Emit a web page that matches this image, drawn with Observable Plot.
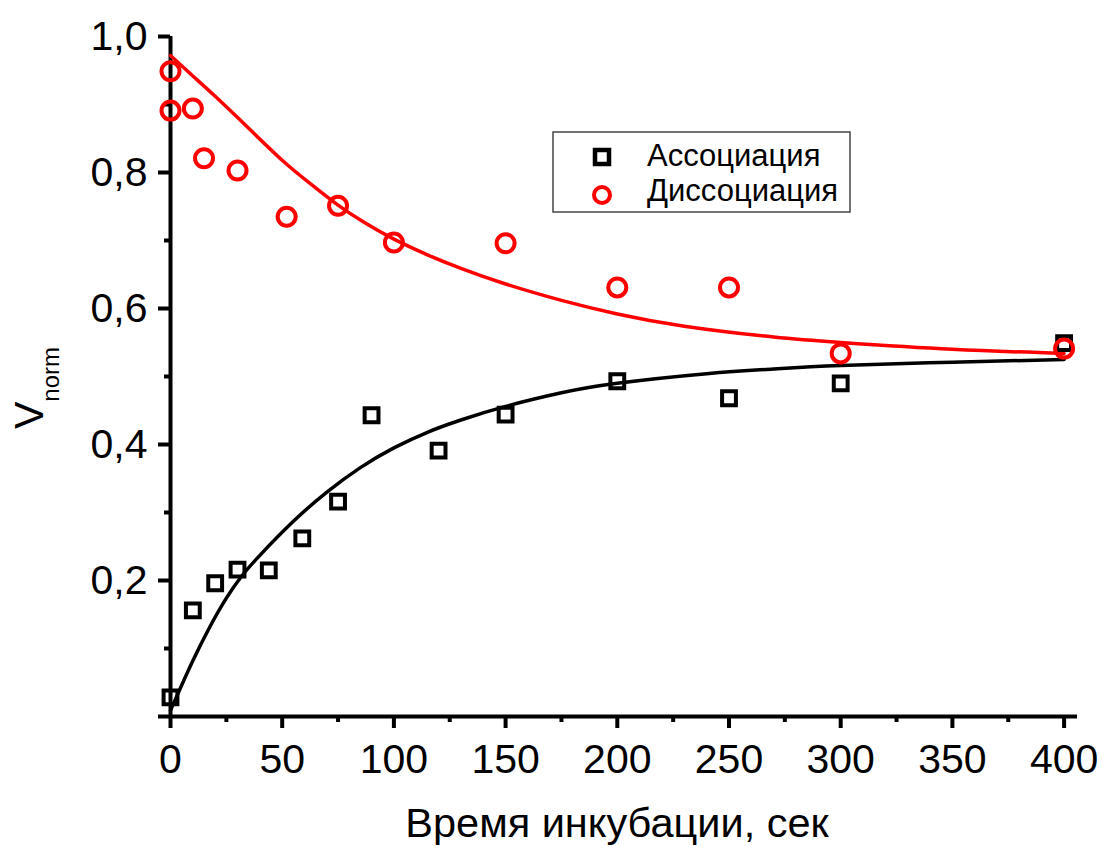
<!DOCTYPE html>
<html>
<head>
<meta charset="utf-8">
<script src="https://cdn.jsdelivr.net/npm/d3@7"></script>
<script src="https://cdn.jsdelivr.net/npm/@observablehq/plot@0.6"></script>
<style>
  html, body { margin: 0; padding: 0; background: #fff; }
  #chart svg { display: block; }
</style>
</head>
<body>
<div id="chart"></div>
<script>
// Data
const assocTime = [0, 10, 20, 30, 44, 59, 75, 90, 120, 150, 200, 250, 300, 400];
const assocValue = [0.028, 0.156, 0.196, 0.216, 0.215, 0.262, 0.316, 0.443, 0.391, 0.444, 0.493, 0.468, 0.490, 0.549];

const dissocTime = [0, 0, 10, 15, 30, 52, 75, 100, 150, 200, 250, 300, 400];
const dissocValue = [0.949, 0.891, 0.894, 0.821, 0.803, 0.735, 0.751, 0.697, 0.696, 0.631, 0.631, 0.534, 0.541];

// Fitted curves
const assocFitTime = [0, 5, 10, 17, 25, 32, 40, 55, 70, 85, 100, 115, 130, 150, 175, 200, 240, 270, 300, 350, 400];
const assocFitValue = [0.009, 0.046, 0.082, 0.128, 0.174, 0.207, 0.237, 0.287, 0.330, 0.366, 0.395, 0.418, 0.436, 0.456, 0.476, 0.490, 0.504, 0.511, 0.516, 0.521, 0.525];

const dissocFitTime = [0, 10, 20, 35, 50, 62, 75, 87, 100, 115, 130, 150, 175, 200, 230, 270, 300, 350, 400];
const dissocFitValue = [0.972, 0.942, 0.912, 0.865, 0.818, 0.785, 0.752, 0.726, 0.702, 0.679, 0.659, 0.636, 0.612, 0.592, 0.574, 0.558, 0.550, 0.540, 0.534];

const seriesNames = ["Ассоциация", "Диссоциация"];
const xLabel = "Время инкубации, сек";
const yLabelMain = "V";
const yLabelSub = "norm";

const xMajorTicks = [0, 50, 100, 150, 200, 250, 300, 350, 400];
const xMinorTicks = [25, 75, 125, 175, 225, 275, 325, 375];
const yMajorTicks = [0, 0.2, 0.4, 0.6, 0.8, 1.0];
const yMinorTicks = [0.1, 0.3, 0.5, 0.7, 0.9];

const zip = (xs, ys) => xs.map((x, i) => ({x, y: ys[i]}));
const assoc = zip(assocTime, assocValue);
const dissoc = zip(dissocTime, dissocValue);
const assocFit = zip(assocFitTime, assocFitValue);
const dissocFit = zip(dissocFitTime, dissocFitValue);

const RED = "#ff0000";
const BLACK = "#000000";
const FONT = "'Liberation Sans', Arial, Helvetica, sans-serif";

const chart = Plot.plot({
  width: 1102,
  height: 846,
  marginLeft: 170,
  marginRight: 25,
  marginTop: 36,
  marginBottom: 130,
  style: {fontFamily: FONT, background: "#fff", color: "#000"},
  x: {domain: [0, 406]},
  y: {domain: [0, 1]},
  marks: [
    // minor ticks
    Plot.axisX({ticks: xMinorTicks, tickSize: 6, strokeWidth: 4, tickFormat: null, label: null, text: null}),
    Plot.axisY({ticks: yMinorTicks, tickSize: 6, strokeWidth: 4, tickFormat: null, label: null, text: null}),
    // major ticks
    Plot.axisX({ticks: xMajorTicks, tickSize: 12, tickPadding: 15, strokeWidth: 4, fontSize: 41,
                tickFormat: d => String(d), label: null}),
    Plot.axisY({ticks: yMajorTicks, tickSize: 12, tickPadding: 11, strokeWidth: 4, fontSize: 41,
                tickFormat: d => d === 0 ? "" : d.toFixed(1).replace(".", ","), label: null}),
    // axis lines
    Plot.ruleY([0], {x1: 0, x2: 406, stroke: BLACK, strokeWidth: 4}),
    Plot.ruleX([0], {y1: 0, y2: 1, stroke: BLACK, strokeWidth: 4}),
    // fitted curves
    Plot.line(assocFit, {x: "x", y: "y", stroke: BLACK, strokeWidth: 3.5, curve: "natural"}),
    Plot.line(dissocFit, {x: "x", y: "y", stroke: RED, strokeWidth: 3.5, curve: "natural"}),
    // data points
    Plot.dot(assoc, {x: "x", y: "y", symbol: "square", r: 7.8, stroke: BLACK, strokeWidth: 4, fill: "none"}),
    Plot.dot(dissoc, {x: "x", y: "y", symbol: "circle", r: 9, stroke: RED, strokeWidth: 4, fill: "none"})
  ]
});

document.getElementById("chart").appendChild(chart);

const svg = d3.select(chart);

// x axis label
svg.append("text")
  .attr("x", 617).attr("y", 837)
  .attr("text-anchor", "middle")
  .attr("font-family", FONT).attr("font-size", 41.5).attr("fill", "#000")
  .text(xLabel);

// y axis label with subscript
const yl = svg.append("text")
  .attr("transform", "translate(43,388) rotate(-90)")
  .attr("text-anchor", "middle")
  .attr("font-family", FONT).attr("fill", "#000");
yl.append("tspan").attr("font-size", 41).text(yLabelMain);
yl.append("tspan").attr("font-size", 24).attr("dy", 16).text(yLabelSub);

// legend
const lg = svg.append("g");
lg.append("rect")
  .attr("x", 553).attr("y", 132).attr("width", 297).attr("height", 80)
  .attr("fill", "#fff").attr("stroke", "#444").attr("stroke-width", 1.5);
lg.append("rect")
  .attr("x", 595).attr("y", 150).attr("width", 14).attr("height", 14)
  .attr("fill", "none").attr("stroke", BLACK).attr("stroke-width", 4.5);
lg.append("circle")
  .attr("cx", 602).attr("cy", 195).attr("r", 8)
  .attr("fill", "none").attr("stroke", RED).attr("stroke-width", 4);
lg.selectAll("text.lt").data(seriesNames).join("text")
  .attr("class", "lt")
  .attr("x", 647).attr("y", (d, i) => i === 0 ? 166 : 201)
  .attr("text-anchor", "start")
  .attr("font-family", FONT).attr("font-size", 31).attr("fill", "#000")
  .text(d => d);
</script>
</body>
</html>
